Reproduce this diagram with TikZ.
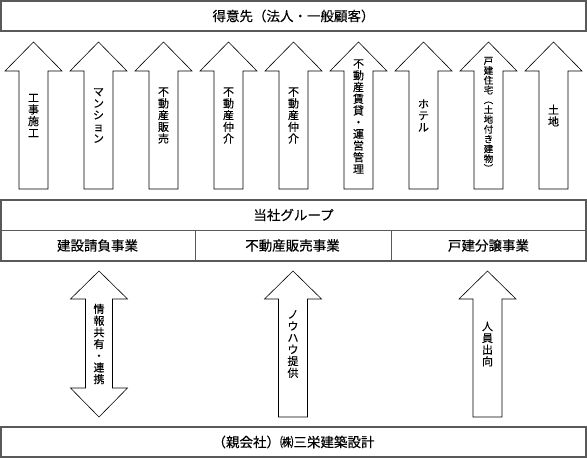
\documentclass[tikz,border=0pt]{standalone}
\usepackage{fontspec}
\usepackage{graphicx}
\setmainfont{Noto Sans CJK JP}[FakeBold=0.25]
\newcommand\vopen{\rotatebox[origin=c]{-90}{（}}
\newcommand\vclose{\rotatebox[origin=c]{-90}{）}}
\newcommand\myUpArrow[4]{%
  \draw[arr] (#1,#2) -- (#1+28.5,#3) -- (#1+14.5,#3) -- (#1+14.5,#4)
    -- (#1-14.5,#4) -- (#1-14.5,#3) -- (#1-28.5,#3) -- cycle;}
\begin{document}
\begin{tikzpicture}[x=1pt,y=-1pt,
  box/.style={draw=black!65, line width=1.1pt},
  divl/.style={draw=black!65, line width=0.9pt},
  arr/.style={draw=black, line width=0.6pt, fill=white},
  lbl/.style={font=\fontsize{13.5}{15}\selectfont, inner sep=0pt},
  vlbl/.style={font=\fontsize{11}{11.7}\selectfont, align=center, inner sep=0pt},
  vsmall/.style={font=\fontsize{9.5}{9.8}\selectfont, align=center, inner sep=0pt}]
\useasboundingbox (0,0) rectangle (587,458);
\fill[white] (0,0) rectangle (587,458);

% top customers box
\draw[box] (1,1) rectangle (586,31);
\node[lbl] (cust) at (293.5,16) {得意先（法人・一般顧客）};

% upper arrows
\foreach \i in {0,...,8}{\myUpArrow{33.5+65*\i}{42}{71}{189}}
\node[vlbl] (u1) at (33.5,115.5) {工\\事\\施\\工};
\node[vlbl] (u2) at (98.5,115.5) {マ\\ン\\シ\\ョ\\ン};
\node[vlbl] (u3) at (163.5,115.5) {不\\動\\産\\販\\売};
\node[vlbl] (u4) at (228.5,115.5) {不\\動\\産\\仲\\介};
\node[vlbl] (u5) at (293.5,115.5) {不\\動\\産\\仲\\介};
\node[vlbl] (u6) at (358.5,116.5) {不\\動\\産\\賃\\貸\\・\\運\\営\\管\\理};
\node[vlbl] (u7) at (423.5,115.5) {ホ\\テ\\ル};
\node[vsmall] (u8) at (488.5,115) {戸\\建\\住\\宅\\\vopen\\土\\地\\付\\き\\建\\物\\\vclose};
\node[vlbl] (u9) at (553.5,115.5) {土\\地};

% group box
\draw[box] (1,200) rectangle (586,261);
\draw[divl] (1,230) -- (586,230);
\draw[divl] (195,230) -- (195,261);
\draw[divl] (391,230) -- (391,261);
\node[lbl] (grp) at (293.5,215) {当社グループ};
\node[lbl] (b1) at (97.5,245.5) {建設請負事業};
\node[lbl] (b2) at (292.5,245.5) {不動産販売事業};
\node[lbl] (b3) at (488.5,245.5) {戸建分譲事業};

% lower arrows
\draw[arr] (99,271) -- (127.5,299) -- (112.5,299) -- (112.5,388) -- (127.5,388)
  -- (99,417) -- (70.5,388) -- (85.5,388) -- (85.5,299) -- (70.5,299) -- cycle;
\myUpArrow{293}{271}{299}{417}
\myUpArrow{487.5}{271}{299}{417}
\node[vlbl] (l1) at (99,344) {情\\報\\共\\有\\・\\連\\携};
\node[vlbl] (l2) at (293,344) {ノ\\ウ\\ハ\\ウ\\提\\供};
\node[vlbl] (l3) at (487.5,344) {人\\員\\出\\向};

% parent box
\draw[box] (1,427) rectangle (586,457);
\node[lbl] (par) at (293.5,442) {（親会社）㈱三栄建築設計};
\end{tikzpicture}
\end{document}
